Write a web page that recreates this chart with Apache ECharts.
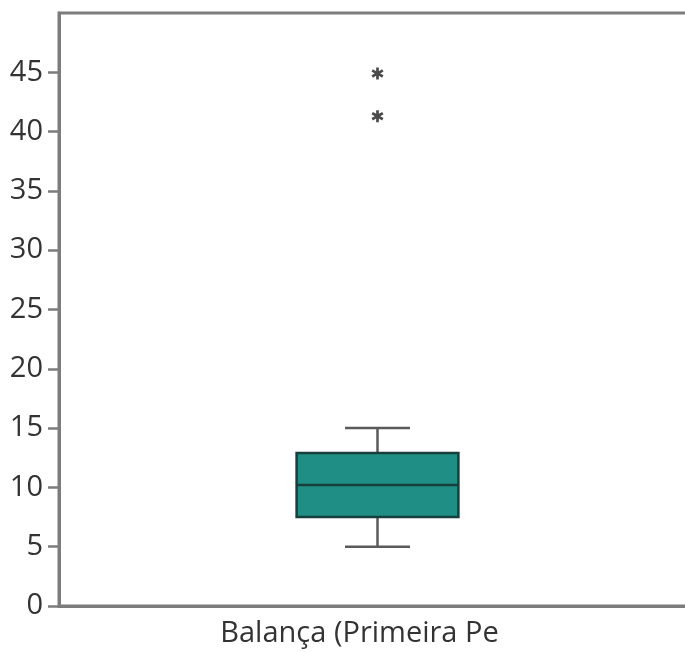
<!DOCTYPE html>
<html>
<head>
<meta charset="utf-8">
<script src="https://cdn.jsdelivr.net/npm/echarts@6/dist/echarts.min.js"></script>
<style>
  html, body { margin: 0; padding: 0; background: #fff; }
  #chart { width: 685px; height: 652px; }
</style>
</head>
<body>
<div id="chart"></div>
<script>
// Box plot of one variable with its outliers
const categories = ['Balança (Primeira Pe'];
// [low whisker, Q1, median, Q3, high whisker]
const boxStats = [[5.0, 7.5, 10.2, 12.9, 15.0]];
const outlierValues = [44.9, 41.3];
const yTicks = [0, 5, 10, 15, 20, 25, 30, 35, 40, 45];

const axisGray = '#7c7c7c';
const textColor = '#333333';
const fontFamily = '"Open Sans", "Noto Sans", sans-serif';

// bold asterisk glyph for outlier points
const asteriskPath = 'path://M8,0 L12,0 L12,5.5 L16.8,2.7 L18.8,6.2 L14,9 L18.8,11.8 L16.8,15.3 L12,12.5 L12,18 L8,18 L8,12.5 L3.2,15.3 L1.2,11.8 L6,9 L1.2,6.2 L3.2,2.7 L8,5.5 Z';

const boxData = boxStats.map((s, i) => [i].concat(s));
const outlierData = outlierValues.map(v => [0, v]);

const chart = echarts.init(document.getElementById('chart'), null, { renderer: 'canvas' });

chart.setOption({
  animation: false,
  grid: {
    left: 59, top: 13, width: 637, bottom: 46,
    containLabel: false, outerBoundsMode: 'none',
    show: true, borderColor: axisGray, borderWidth: 3, backgroundColor: 'transparent'
  },
  xAxis: {
    type: 'category',
    data: categories,
    axisLine: { lineStyle: { color: axisGray, width: 3 } },
    axisTick: { show: false },
    axisLabel: {
      color: textColor, fontSize: 29, fontFamily: fontFamily,
      margin: 13, padding: [0, 36, 0, 0]
    },
    splitLine: { show: false }
  },
  yAxis: {
    type: 'value',
    min: 0, max: 50, interval: 5,
    axisLine: { show: true, lineStyle: { color: axisGray, width: 3 } },
    axisTick: { show: true, length: 11, customValues: yTicks, lineStyle: { color: axisGray, width: 2.5 } },
    axisLabel: { color: textColor, fontSize: 29, fontFamily: fontFamily, margin: 16, customValues: yTicks },
    splitLine: { show: false }
  },
  series: [
    {
      type: 'custom',
      data: boxData,
      encode: { x: 0, y: [1, 2, 3, 4, 5] },
      renderItem: function (params, api) {
        const idx = api.value(0);
        const low = api.coord([idx, api.value(1)]);
        const q1 = api.coord([idx, api.value(2)]);
        const med = api.coord([idx, api.value(3)]);
        const q3 = api.coord([idx, api.value(4)]);
        const high = api.coord([idx, api.value(5)]);
        const band = api.size([1, 0])[0];
        const halfBox = band * 0.127;
        const halfCap = band * 0.051;
        const cx = med[0];
        const whisker = { stroke: '#5a5a5a', lineWidth: 2.5 };
        return {
          type: 'group',
          children: [
            { type: 'line', shape: { x1: cx, y1: high[1], x2: cx, y2: q3[1] }, style: whisker },
            { type: 'line', shape: { x1: cx, y1: q1[1], x2: cx, y2: low[1] }, style: whisker },
            { type: 'line', shape: { x1: cx - halfCap, y1: high[1], x2: cx + halfCap, y2: high[1] }, style: whisker },
            { type: 'line', shape: { x1: cx - halfCap, y1: low[1], x2: cx + halfCap, y2: low[1] }, style: whisker },
            {
              type: 'rect',
              shape: { x: cx - halfBox, y: q3[1], width: halfBox * 2, height: q1[1] - q3[1] },
              style: { fill: '#1f8f86', stroke: '#173f3c', lineWidth: 2.5 }
            },
            {
              type: 'line',
              shape: { x1: cx - halfBox, y1: med[1], x2: cx + halfBox, y2: med[1] },
              style: { stroke: '#173f3c', lineWidth: 2.5 }
            }
          ]
        };
      }
    },
    {
      type: 'scatter',
      data: outlierData,
      symbol: asteriskPath,
      symbolSize: 12,
      itemStyle: { color: '#1e1e1e' }
    }
  ]
});
</script>
</body>
</html>
